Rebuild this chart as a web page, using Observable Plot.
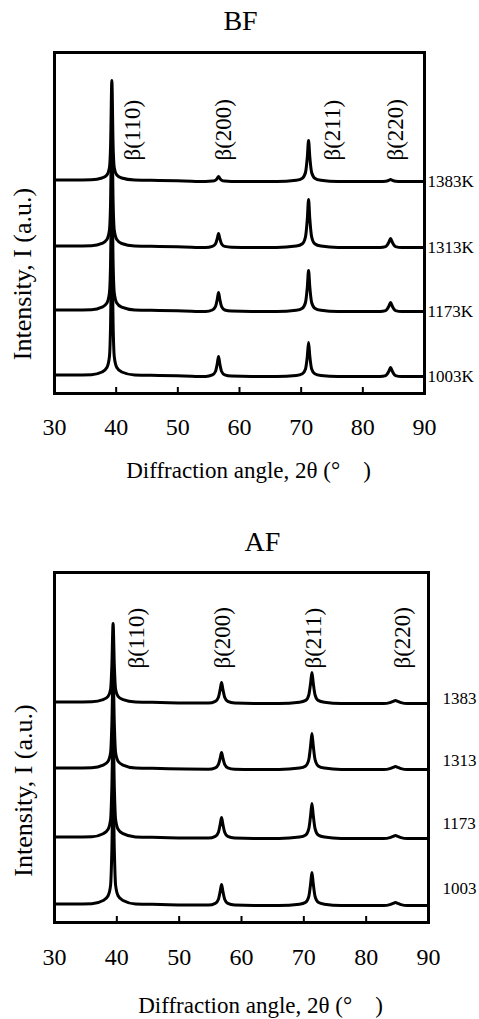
<!DOCTYPE html>
<html><head><meta charset="utf-8">
<script src="https://cdn.jsdelivr.net/npm/d3@7"></script>
<script src="https://cdn.jsdelivr.net/npm/@observablehq/plot@0.6"></script>
<style>
body{margin:0;background:#fff;}
#wrap{position:relative;width:479px;height:1019px;overflow:hidden;background:#fff;}
#bf{position:absolute;left:0;top:0;}
#af{position:absolute;left:0;top:520px;}
</style></head><body><div id="wrap"><div id="bf"></div><div id="af"></div></div>
<script>
// ---------- shared text ----------
const xLabel = "Diffraction angle, 2θ (°\u2003)";
const yLabel = "Intensity, I (a.u.)";
const peakNames = ["β(110)", "β(200)", "β(211)", "β(220)"];
const xTickLabels = [30, 40, 50, 60, 70, 80, 90];
const xInnerTicks = [40, 50, 60, 70, 80];

// ---------- BF panel ----------
const bfTitle = "BF";
const bfSeries = ["1003K", "1173K", "1313K", "1383K"];
const bfOffsets = [0, 65, 129, 195];           // stacking offset (a.u.)
const bfPeakLabelAngles = [42.6, 57.4, 75.1, 85.3];
const bfPeakLabelLevel = 216;
const bfAngles = [30, 33, 36, 37.7, 38.5, 38.9, 39.1, 39.3, 39.5, 39.7, 40.1, 40.9, 43, 47, 51,
  54.5, 55.6, 56.1, 56.4, 56.6, 56.8, 57.1, 57.6, 58.7, 62, 66,
  69.2, 70.2, 70.7, 71.0, 71.2, 71.4, 71.7, 72.2, 73.2, 76, 80,
  82.8, 83.7, 84.2, 84.5, 84.8, 85.3, 86.3, 88, 90];
const bf1003 = [1.5, 1.5, 1.8, 4.5, 9, 19.5, 54, 150, 54, 19.5, 9, 4.5, 1.5, 1, 0.5,
  0, 1.6, 5, 13, 20, 13, 5, 1.6, 0.4, 0, 0,
  1, 2.7, 7.5, 20.4, 34, 20.4, 7.5, 2.7, 1, 0, 0,
  0, 0.9, 5, 9, 5, 0.9, 0, 0, 0];
const bf1173 = [1.5, 1.5, 1.8, 4.3, 8.5, 18.3, 50.5, 140, 50.5, 18.3, 8.5, 4.3, 1.5, 1, 0.5,
  0, 1.5, 4.8, 12.4, 19, 12.4, 4.8, 1.5, 0.4, 0, 0,
  1.2, 3.3, 9, 24.6, 41, 24.6, 9, 3.3, 1.2, 0, 0,
  0, 0.9, 5, 9, 5, 0.9, 0, 0, 0];
const bf1313 = [1.5, 1.5, 1.8, 4.1, 8, 17, 47, 130, 47, 17, 8, 4, 1.5, 1, 0.5,
  0, 1.1, 3.5, 9.1, 14, 9.1, 3.5, 1.1, 0.3, 0, 0,
  1.4, 3.8, 10.6, 28.8, 48, 28.8, 10.6, 3.8, 1.4, 0, 0,
  0, 0.9, 5, 9, 5, 0.9, 0, 0, 0];
const bf1383 = [1.5, 1.5, 1.8, 3.5, 6.5, 13.5, 37, 101, 37, 13.5, 6.5, 3.5, 1.5, 1, 0.5,
  0, 0.4, 1.3, 3.2, 5, 3.2, 1.3, 0.4, 0.1, 0, 0,
  1.2, 3.3, 9, 24.6, 41, 24.6, 9, 3.3, 1.2, 0, 0,
  0, 0.2, 1.1, 2, 1.1, 0.2, 0, 0, 0];

// ---------- AF panel ----------
const afTitle = "AF";
const afSeries = ["1003", "1173", "1313", "1383"];
const afOffsets = [0, 67, 136, 202];
const afSeriesLabelLevels = [17, 82, 145, 207];
const afPeakLabelAngles = [43.2, 57.0, 71.5, 85.8];
const afPeakLabelLevel = 237;
const afAngles = [30, 33, 36, 37.8, 38.6, 39.0, 39.2, 39.4, 39.6, 39.8, 40.2, 41.0, 43, 47, 51,
  54.7, 55.8, 56.3, 56.6, 56.8, 57.0, 57.3, 57.8, 58.9, 62, 66,
  69.3, 70.3, 70.8, 71.1, 71.3, 71.5, 71.8, 72.3, 73.3, 76, 80,
  82.8, 83.8, 84.3, 84.7, 85.1, 85.6, 86.6, 88, 90];
const af1003 = [1.5, 1.5, 1.8, 5, 9.8, 20.4, 54.6, 118, 54.6, 20.4, 9.8, 5, 1.5, 1, 0.5,
  0.4, 2.1, 6.3, 14.7, 21, 14.7, 6.3, 2.1, 0.4, 0, 0,
  1.3, 3.3, 9.2, 22.4, 33, 22.4, 9.2, 3.3, 1.3, 0, 0,
  0, 0.9, 2.1, 3, 2.1, 0.9, 0, 0, 0];
const af1173 = [1.5, 1.5, 1.8, 4.8, 9.2, 19, 51, 110, 51, 19, 9.2, 4.8, 1.5, 1, 0.5,
  0.4, 2.1, 6.3, 14.7, 21, 14.7, 6.3, 2.1, 0.4, 0, 0,
  1.4, 3.5, 9.8, 23.8, 35, 23.8, 9.8, 3.5, 1.4, 0, 0,
  0, 0.9, 2.1, 3, 2.1, 0.9, 0, 0, 0];
const af1313 = [1.5, 1.5, 1.8, 4.4, 8.3, 17, 45, 97, 45, 17, 8.3, 4.4, 1.5, 1, 0.5,
  0.3, 1.7, 5.1, 11.9, 17, 11.9, 5.1, 1.7, 0.3, 0, 0,
  1.4, 3.6, 10, 24.5, 36, 24.5, 10, 3.6, 1.4, 0, 0,
  0, 0.9, 2.1, 3, 2.1, 0.9, 0, 0, 0];
const af1383 = [1.5, 1.5, 1.8, 3.9, 7.1, 14.3, 37.5, 80, 37.5, 14.3, 7.1, 3.9, 1.5, 1, 0.5,
  0.4, 2.1, 6.3, 14.7, 21, 14.7, 6.3, 2.1, 0.4, 0, 0,
  1.2, 3.1, 8.7, 21, 31, 21, 8.7, 3.1, 1.2, 0, 0,
  0, 0.9, 2.1, 3, 2.1, 0.9, 0, 0, 0];

// ---------- build ----------
function rowsFor(angles, seriesNames, valueLists, offsets) {
  const rows = [];
  seriesNames.forEach((s, k) => {
    angles.forEach((a, i) => rows.push({angle: a, I: valueLists[k][i] + offsets[k], series: s}));
  });
  return rows;
}

const FONT = "'Liberation Serif', 'Times New Roman', Times, serif";

function panel(o) {
  const frameH = o.height - o.mt - o.mb;
  return Plot.plot({
    width: 479,
    height: o.height,
    marginLeft: o.ml, marginRight: o.mr, marginTop: o.mt, marginBottom: o.mb,
    style: {fontFamily: FONT, fontSize: "24px", color: "black", background: "white", overflow: "visible"},
    x: {domain: [30, 90], axis: null},
    y: {domain: o.yDomain, axis: null},
    marks: [
      Plot.ruleX(xInnerTicks, {stroke: "black", strokeWidth: 2, insetTop: frameH - 6}),
      Plot.line(o.rows, {x: "angle", y: "I", z: "series", stroke: "black", strokeWidth: 3,
        curve: "monotone-x", strokeLinejoin: "round"}),
      Plot.frame({stroke: "black", strokeWidth: 3}),
      Plot.text(xTickLabels, {x: (d) => d, frameAnchor: "bottom", lineAnchor: "middle", dy: o.tickDy,
        fontSize: 24, fontFamily: FONT, fill: "black"}),
      Plot.text(peakNames, {x: (d, i) => o.peakAngles[i], y: () => o.peakLevel, rotate: -90,
        textAnchor: "start", lineAnchor: "middle", fontSize: 23, fontFamily: FONT, fill: "black"}),
      Plot.text(o.seriesLabels, {x: () => 90, y: (d, i) => o.labelLevels[i], dx: o.labelDx,
        textAnchor: "start", lineAnchor: "middle", fontSize: 17, fontFamily: FONT, fill: "black"}),
      Plot.text([o.title], {frameAnchor: "top", textAnchor: "middle", lineAnchor: "middle",
        dx: o.titleDx, dy: o.titleDy, fontSize: 28, fontFamily: FONT, fill: "black"}),
      Plot.text([xLabel], {frameAnchor: "bottom", textAnchor: "middle", lineAnchor: "middle",
        dx: o.xlDx, dy: o.xlDy, fontSize: 23, fontFamily: FONT, fill: "black"}),
      Plot.text([yLabel], {frameAnchor: "left", textAnchor: "middle", lineAnchor: "middle", rotate: -90,
        dx: o.ylDx, dy: o.ylDy, fontSize: 26, fontFamily: FONT, fill: "black"})
    ]
  });
}

document.getElementById("bf").append(panel({
  height: 500, ml: 54, mr: 55, mt: 52, mb: 107,
  yDomain: [-17, 324],
  rows: rowsFor(bfAngles, bfSeries, [bf1003, bf1173, bf1313, bf1383], bfOffsets),
  peakAngles: bfPeakLabelAngles, peakLevel: bfPeakLabelLevel,
  seriesLabels: bfSeries, labelLevels: bfOffsets, labelDx: 3,
  title: bfTitle, titleDx: 1, titleDy: -31,
  tickDy: 34, xlDx: 9, xlDy: 77, ylDx: -32, ylDy: 51
}));

document.getElementById("af").append(panel({
  height: 499, ml: 54, mr: 51, mt: 52, mb: 97,
  yDomain: [-17, 333],
  rows: rowsFor(afAngles, afSeries, [af1003, af1173, af1313, af1383], afOffsets),
  peakAngles: afPeakLabelAngles, peakLevel: afPeakLabelLevel,
  seriesLabels: afSeries, labelLevels: afSeriesLabelLevels, labelDx: 14,
  title: afTitle, titleDx: 21, titleDy: -30,
  tickDy: 35, xlDx: 19, xlDy: 83, ylDx: -31, ylDy: 43
}));
</script></body></html>
